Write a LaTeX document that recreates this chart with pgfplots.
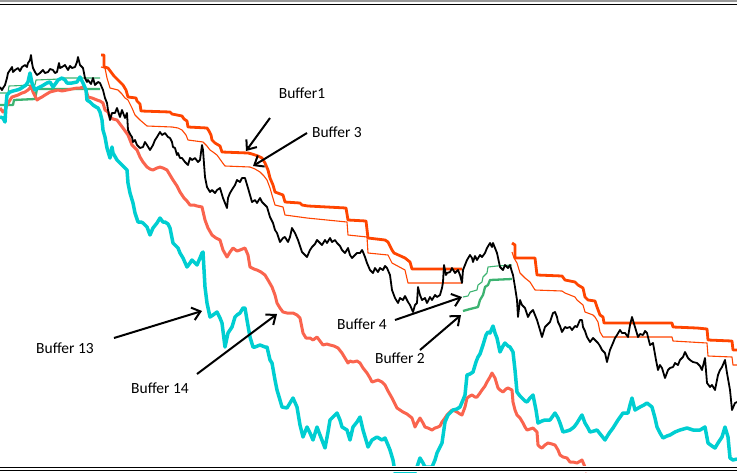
\documentclass[border=0pt]{standalone}
\usepackage{pgfplots}
\pgfplotsset{compat=1.18}
\usepackage{fontspec}
\setmainfont{Carlito}
\usetikzlibrary{arrows.meta}
\definecolor{bufred}{RGB}{255,69,0}
\definecolor{bufcyan}{RGB}{0,206,209}
\definecolor{buftomato}{RGB}{250,100,78}
\definecolor{bufgreen}{RGB}{60,179,113}
\begin{document}
\begin{tikzpicture}
\fill[white] (0,0) rectangle (737pt,472pt);
\begin{axis}[name=ax, at={(0,0)}, anchor=south west,
  width=737pt, height=472pt, scale only axis,
  xmin=0, xmax=737, ymin=0, ymax=472, y dir=reverse,
  hide axis, clip=true,
  every axis plot/.append style={line join=round, no markers}]
% Buffer 4 (thin green)
\addplot[bufgreen, line width=1.1pt] coordinates {(0,93)(8,93)(9,86)(35,85)(36,80)(60,79)(62,78)(100,78)};
\addplot[bufgreen, line width=1.1pt] coordinates {(463,297)(468,296)(470,292)(477,290)(478,285)(482,282)(483,277)(487,273)(488,267)(497,266)(512,265)};
% Buffer 2 (thick green)
\addplot[bufgreen, line width=2.3pt] coordinates {(0,105)(13,105)(14,100)(35,99)(37,89)(100,89)};
\addplot[bufgreen, line width=2.3pt] coordinates {(463,311)(470,309)(478,307)(480,300)(483,295)(485,287)(488,285)(490,280)(512,279)};
% Buffer 3 (thin orange)
\addplot[bufred, line width=1.1pt] coordinates {(101,67)(105,68)(107,78)(110,88)(118,90)(122,94)(125,98)(128,100)(132,108)(135,115)(140,120)(147,126)(172,127)(178,128)(182,130)(186,135)(188,140)(203,142)(207,146)(210,150)(213,152)(217,155)(222,162)(225,166)(250,167)(255,169)(260,172)(264,176)(267,180)(270,188)(272,195)(275,205)(283,207)(285,215)(307,218)(347,222)(348,235)(367,237)(368,253)(388,255)(392,263)(405,270)(408,283)(462,283)};
\addplot[bufred, line width=1.1pt] coordinates {(512,252)(514,258)(517,263)(520,273)(525,278)(530,282)(535,290)(562,291)(565,293)(575,297)(577,300)(583,305)(585,312)(593,315)(595,317)(598,322)(600,332)(603,337)(672,337)(673,341)(707,343)(708,356)(732,357)(733,365)(737,365)};
% Buffer 1 (thick orange)
\addplot[bufred, line width=2.8pt] coordinates {(101,55)(104,55)(104,67)(108,68)(111,72)(114,76)(117,79)(120,82)(123,85)(126,90)(128,97)(136,98)(137,101)(140,104)(141,111)(170,112)(172,114)(182,116)(184,119)(187,121)(188,127)(207,128)(209,131)(211,135)(212,140)(215,143)(220,146)(222,152)(248,153)(252,154)(258,156)(262,158)(265,163)(268,170)(270,178)(273,185)(275,192)(283,195)(285,202)(300,203)(302,205)(308,206)(346,208)(348,220)(366,221)(368,238)(385,240)(388,242)(392,250)(394,253)(405,258)(410,262)(412,269)(462,269)};
\addplot[bufred, line width=2.8pt] coordinates {(512,243)(515,245)(515,258)(535,258)(537,275)(562,276)(565,280)(575,282)(578,285)(583,288)(585,297)(588,300)(595,301)(597,307)(600,315)(603,317)(604,323)(672,323)(673,327)(697,328)(707,329)(708,340)(732,341)(733,350)(737,350)};
% Buffer 14 (tomato)
\addplot[buftomato, line width=3pt] coordinates {(0,108)(3,112)(5,110)(7,105)(10,100)(12,97)(15,96)(18,95)(22,93)(25,92)(28,90)(30,88)(31,86)(33,92)(35,96)(37,100)(40,98)(42,97)(45,95)(50,92)(54,91)(58,90)(62,91)(67,90)(72,89)(77,88)(80,88)(83,87)(86,90)(88,97)(92,98)(97,100)(100,101)(103,103)(105,110)(108,112)(110,117)(113,119)(117,120)(120,124)(123,128)(128,135)(132,145)(137,150)(140,157)(143,162)(147,167)(150,169)(153,170)(157,168)(160,167)(163,168)(167,170)(170,175)(173,180)(177,186)(180,192)(184,198)(187,201)(190,205)(194,205)(197,206)(202,207)(205,220)(208,228)(212,235)(216,238)(220,240)(223,250)(227,257)(230,252)(233,248)(237,251)(240,250)(245,248)(248,255)(250,267)(254,269)(257,270)(261,272)(265,275)(268,280)(272,287)(275,295)(277,303)(280,308)(283,312)(287,313)(290,313)(293,313)(297,315)(300,318)(303,333)(306,338)(310,338)(313,340)(317,337)(320,341)(323,345)(327,344)(330,345)(334,346)(338,348)(342,353)(345,358)(348,363)(350,361)(353,362)(357,361)(360,363)(363,368)(367,373)(370,378)(372,382)(375,381)(378,380)(382,382)(385,385)(388,391)(392,398)(395,404)(397,408)(400,410)(403,412)(407,414)(412,418)(415,427)(417,423)(420,418)(423,423)(425,427)(428,428)(432,430)(435,428)(438,427)(440,426)(442,422)(445,418)(447,415)(450,412)(452,410)(455,411)(457,412)(460,414)(462,415)(465,407)(467,398)(470,396)(472,395)(475,397)(477,397)(480,393)(482,390)(485,386)(487,382)(490,377)(492,373)(495,378)(498,388)(500,390)(503,392)(506,389)(508,388)(512,390)(513,402)(515,410)(517,415)(520,418)(523,423)(525,427)(527,430)(530,429)(533,428)(537,432)(538,445)(540,447)(542,448)(545,445)(548,443)(552,444)(555,445)(558,450)(560,455)(563,457)(567,458)(570,462)(573,462)(577,463)(582,460)(585,467)(587,472)};
% Buffer 13 (cyan)
\addplot[bufcyan, line width=3.5pt] coordinates {(0,117)(3,118)(5,122)(6,105)(7,95)(10,92)(13,91)(17,90)(20,89)(23,87)(26,85)(28,82)(30,73)(32,83)(35,90)(38,88)(42,86)(47,83)(50,82)(53,87)(56,83)(58,80)(62,78)(65,80)(67,83)(72,83)(77,82)(80,77)(83,83)(86,90)(87,100)(90,102)(93,105)(96,107)(98,108)(100,112)(102,120)(103,130)(105,137)(107,148)(110,158)(112,147)(113,153)(117,160)(120,163)(122,165)(125,168)(127,170)(128,183)(130,193)(133,203)(135,213)(138,222)(141,222)(143,223)(147,227)(150,235)(153,228)(157,223)(160,218)(163,222)(165,222)(168,224)(170,228)(173,243)(176,246)(178,248)(180,253)(183,258)(187,267)(190,263)(192,260)(195,263)(197,265)(200,258)(202,253)(203,252)(205,287)(207,303)(210,317)(213,315)(217,312)(220,318)(222,323)(225,347)(228,333)(230,330)(232,327)(235,317)(237,315)(240,313)(243,308)(245,308)(247,320)(250,337)(253,347)(255,347)(260,345)(265,347)(267,347)(270,360)(272,363)(275,380)(277,390)(280,400)(282,407)(287,408)(290,403)(293,398)(297,407)(300,425)(303,437)(307,427)(310,433)(313,440)(317,427)(320,435)(325,448)(328,432)(330,420)(334,416)(337,413)(340,420)(342,427)(347,430)(350,440)(353,427)(357,422)(360,417)(363,430)(366,440)(368,447)(372,440)(377,437)(382,440)(385,438)(388,445)(390,450)(393,460)(395,472)(415,472)(417,467)(420,458)(423,463)(425,467)(432,467)(435,460)(437,453)(442,443)(445,422)(448,415)(453,410)(457,409)(460,407)(463,400)(465,395)(467,375)(470,374)(473,372)(476,362)(478,357)(480,354)(483,345)(486,335)(488,332)(490,333)(493,326)(495,333)(497,338)(500,352)(503,346)(505,343)(508,346)(510,347)(513,352)(515,370)(517,392)(520,396)(522,398)(525,401)(527,402)(530,398)(533,395)(536,410)(538,423)(542,421)(545,420)(550,420)(555,413)(558,418)(560,423)(563,432)(567,431)(570,430)(574,427)(577,423)(580,418)(582,415)(585,423)(588,428)(590,432)(594,431)(597,430)(601,435)(605,440)(608,435)(610,432)(613,428)(618,420)(623,413)(628,413)(630,405)(632,398)(635,410)(640,407)(644,405)(647,403)(652,407)(655,418)(657,427)(660,433)(663,438)(667,436)(670,435)(675,432)(680,430)(687,428)(693,430)(700,430)(705,427)(708,443)(712,446)(715,448)(718,443)(722,437)(725,427)(728,437)(730,458)(733,460)(737,459)};
% Price (black)
\addplot[black, line width=1.8pt] coordinates {(0,87)(2,90)(3,88)(5,85)(7,78)(8,73)(10,70)(12,67)(13,72)(15,70)(18,68)(20,71)(22,67)(25,65)(27,67)(28,63)(30,60)(31,55)(32,63)(33,68)(35,72)(37,75)(40,73)(43,70)(45,73)(48,72)(50,69)(53,70)(55,73)(57,72)(59,63)(60,68)(62,67)(65,65)(68,70)(70,66)(72,68)(75,67)(77,62)(78,57)(80,65)(83,68)(85,78)(87,82)(88,80)(91,84)(93,78)(95,85)(98,82)(100,83)(103,90)(105,98)(107,103)(108,110)(110,120)(112,113)(115,113)(117,108)(120,117)(122,110)(125,118)(127,113)(128,130)(130,134)(132,137)(133,142)(135,140)(137,145)(140,148)(143,147)(145,142)(147,145)(150,150)(153,145)(155,140)(157,137)(160,132)(162,135)(165,133)(168,137)(170,138)(172,142)(173,147)(175,148)(177,155)(178,153)(180,158)(182,158)(185,162)(188,165)(190,158)(192,160)(195,158)(198,162)(200,160)(202,145)(203,150)(205,177)(207,187)(210,192)(212,190)(215,193)(217,190)(220,188)(223,198)(225,203)(227,208)(228,198)(230,193)(233,188)(235,185)(237,180)(240,182)(242,178)(245,178)(248,188)(250,195)(252,202)(255,200)(257,203)(260,198)(262,202)(265,205)(267,207)(270,217)(273,223)(275,230)(277,233)(280,242)(283,238)(285,237)(288,242)(290,237)(292,228)(295,233)(298,240)(300,246)(302,252)(305,255)(307,257)(310,250)(312,247)(315,244)(317,240)(320,243)(322,245)(325,240)(327,243)(330,238)(332,242)(335,240)(337,243)(340,246)(342,250)(345,253)(348,248)(350,255)(352,258)(355,255)(357,253)(360,253)(362,250)(363,252)(365,257)(367,263)(370,270)(373,273)(375,268)(378,272)(380,268)(383,270)(385,266)(387,268)(390,275)(392,290)(395,298)(398,303)(400,298)(403,300)(405,296)(408,302)(410,305)(413,312)(415,305)(417,303)(418,287)(420,295)(422,300)(425,298)(427,303)(430,297)(432,300)(435,295)(437,297)(440,295)(442,288)(443,282)(444,265)(446,275)(447,273)(450,272)(452,268)(455,273)(458,270)(460,275)(462,283)(463,270)(465,265)(467,260)(470,255)(472,258)(473,262)(475,256)(477,260)(480,255)(482,257)(485,253)(487,248)(490,243)(492,247)(493,243)(495,248)(497,253)(500,267)(503,270)(505,265)(508,268)(510,265)(512,272)(513,275)(515,287)(517,300)(518,317)(520,300)(522,305)(525,308)(528,317)(530,313)(533,310)(535,315)(537,320)(540,330)(542,337)(545,327)(547,325)(550,322)(553,313)(555,312)(557,317)(558,322)(560,326)(562,332)(565,327)(567,328)(570,327)(572,330)(575,326)(577,327)(580,320)(582,320)(583,327)(585,331)(587,337)(590,342)(593,338)(595,340)(598,343)(600,346)(602,350)(605,353)(607,362)(610,350)(613,343)(615,338)(617,335)(620,330)(622,333)(625,333)(628,337)(630,325)(632,317)(635,327)(638,337)(640,334)(643,335)(645,331)(647,333)(650,345)(653,343)(656,360)(658,370)(660,365)(662,368)(665,378)(668,370)(670,368)(673,367)(675,363)(678,365)(680,360)(683,357)(685,352)(688,358)(690,360)(693,362)(697,363)(700,366)(702,370)(705,358)(707,383)(710,387)(712,385)(715,390)(718,375)(720,370)(722,367)(725,360)(727,373)(730,390)(732,410)(735,403)(737,402)};
% frame
\fill[white] (axis cs:0,465.8) rectangle (axis cs:737,472);
\fill[white] (axis cs:0,0) rectangle (axis cs:737,5);
\draw[black!40, line width=1.6pt] (axis cs:0,0.8) -- (axis cs:737,0.8);
\draw[black, line width=1.3pt] (axis cs:0,4.3) -- (axis cs:737,4.3);
\draw[black, line width=1.2pt] (axis cs:0,467.3) -- (axis cs:737,467.3);
\draw[black, line width=1.2pt] (axis cs:0,470.2) -- (axis cs:737,470.2);
% annotations
\begin{scope}[line width=2pt, -{Straight Barb[length=8pt,width=13pt]}]
\draw (axis cs:270,118) -- (axis cs:246,151);
\draw (axis cs:307,133) -- (axis cs:253,166);
\draw (axis cs:395,320) -- (axis cs:462,297);
\draw (axis cs:420,350) -- (axis cs:461,315);
\draw (axis cs:114,338) -- (axis cs:202,311);
\draw (axis cs:197,374) -- (axis cs:277,314);
\end{scope}
\begin{scope}[font=\fontsize{15.5}{18}\selectfont, inner sep=0pt]
\node at (axis cs:302,93) {Buffer1};
\node at (axis cs:337,132) {Buffer 3};
\node at (axis cs:362,324) {Buffer 4};
\node at (axis cs:400,358) {Buffer 2};
\node at (axis cs:65,348) {Buffer 13};
\node at (axis cs:160,388) {Buffer 14};
\end{scope}
\end{axis}
\pgfresetboundingbox
\path[use as bounding box] (ax.south west) rectangle (ax.north east);
\end{tikzpicture}
\end{document}
